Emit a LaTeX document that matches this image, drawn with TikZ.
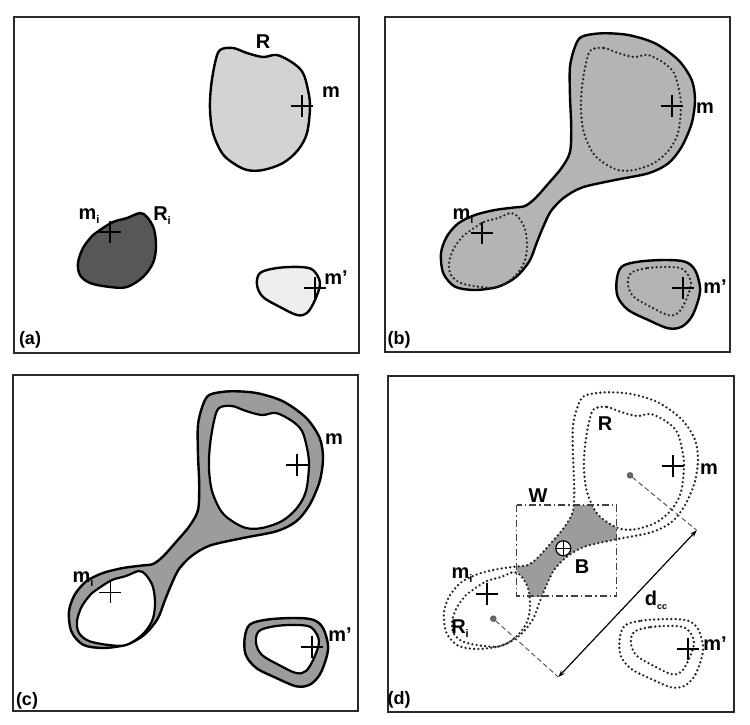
\documentclass[tikz,border=0pt]{standalone}
\usepackage{fontspec}
\setmainfont{Liberation Sans}
\usetikzlibrary{arrows.meta}
\definecolor{gA}{HTML}{D3D3D3}
\definecolor{gDark}{HTML}{575757}
\definecolor{gLight}{HTML}{EDEDED}
\definecolor{gB}{HTML}{B4B4B4}
\definecolor{gC}{HTML}{9C9C9C}
\definecolor{frameC}{HTML}{2A2A2A}
\tikzset{
 Rpath/.style={insert path={plot[smooth cycle,tension=0.55] coordinates {(220,50) (233,48) (247,53) (263,57) (277,55) (293,63) (303,73) (308,90) (310,107) (307,133) (298,150) (283,163) (263,170) (247,170) (233,163) (222,153) (213,133) (210,110) (211,87) (215,63)}}},
 Ripath/.style={insert path={plot[smooth cycle,tension=0.55] coordinates {(100,230) (113,222) (127,218) (140,213) (147,217) (154,229) (156,247) (153,263) (143,277) (127,287) (110,287) (90,283) (80,275) (78,263) (83,248) (93,235)}}},
 Mppath/.style={insert path={plot[smooth cycle,tension=0.55] coordinates {(260,273) (277,268) (300,267) (313,270) (320,283) (315,300) (307,313) (297,315) (280,307) (263,297) (257,285)}}},
 Opath/.style={insert path={plot[smooth cycle,tension=0.5] coordinates {(210.7,36.7) (230.7,33.3) (257.3,35) (284,43.3) (307.3,60) (320.7,80) (324,100) (320.7,123.3) (310.7,146.7) (297.3,163.3) (277.3,173.3) (244,180) (211,187.5) (192.5,198) (180,211) (173,225) (166,242) (158.5,261) (145,277) (127.3,286.7) (104,290) (84,286.7) (72.3,273.3) (70,253.3) (75.7,236.7) (87.3,223.3) (104,215) (124,210) (143,207.5) (154,206) (164,198.5) (177,184) (190.5,168) (199,152) (200.2,126.7) (199,96.7) (199,66.7) (204,46.7)}}},
 Mpopath/.style={insert path={plot[smooth cycle,tension=0.55] coordinates {(250.7,266.7) (267.3,261.7) (294,260) (314,261.7) (324,270) (329,286.7) (327.3,300) (320.7,316.7) (310.7,326.7) (297.3,328.3) (277.3,320) (257.3,310) (246.7,296.7) (245.7,280)}}},
 outline/.style={draw=black,line width=2.4pt},
 dotline/.style={draw=black!85,line width=2.6pt,line cap=round,dash pattern=on 0pt off 4.3pt},
 frameline/.style={draw=frameC,line width=2.2pt},
 lab/.style={font=\fontsize{20}{20}\selectfont\bfseries,inner sep=0pt},
 plab/.style={font=\fontsize{18}{18}\selectfont\bfseries,inner sep=0pt},
 crossmark/.pic={\draw (-11,0) -- (11,0) (0,-11) -- (0,11);},
}
\newcommand{\subi}{\raisebox{-4pt}{\fontsize{11}{11}\selectfont i}}
\begin{document}
\begin{tikzpicture}[x=1pt,y=-1pt]
\useasboundingbox (0,0) rectangle (750,724);
\fill[white] (0,0) rectangle (750,724);
% ---------------- panel a
\begin{scope}
 \draw[frameline] (14,17) rectangle (359,353);
 \path[outline,fill=gA,Rpath];
 \path[outline,fill=gDark,Ripath];
 \path[outline,fill=gLight,Mppath];
 \pic[line width=1.8pt] at (302,106) {crossmark};
 \pic[line width=1.6pt] at (110,232) {crossmark};
 \pic[line width=1.6pt] at (315,288) {crossmark};
 \node[lab] (aR) at (263,42) {R};
 \node[lab] (am) at (331,92) {m};
 \node[lab] (ami) at (89,216) {m\subi};
 \node[lab] (aRi) at (162,216) {R\subi};
 \node[lab] (amp) at (336,278) {m'};
 \node[plab] (alab) at (30,340) {(a)};
\end{scope}
% ---------------- panel b
\begin{scope}[shift={(371,0)}]
 \draw[frameline] (14,17) rectangle (359,352);
 \path[outline,fill=gB,Opath];
 \path[outline,fill=gB,Mpopath];
 \path[dotline,Rpath];
 \path[dotline,Ripath];
 \path[dotline,Mppath];
 \pic[line width=2pt] at (301,106) {crossmark};
 \pic[line width=2pt] at (111,233) {crossmark};
 \pic[line width=1.6pt] at (312,288) {crossmark};
 \node[lab] (bm) at (334,108) {m};
 \node[lab] (bmi) at (92,216) {m\subi};
 \node[lab] (bmp) at (344,287) {m'};
 \node[plab] (blab) at (28,340) {(b)};
\end{scope}
% ---------------- panel c
\begin{scope}[shift={(-1,358)}]
 \draw[frameline] (14,17) rectangle (359,353);
 \path[outline,fill=gC,Opath];
 \path[outline,fill=gC,Mpopath];
 \path[outline,line width=2.2pt,fill=white,Rpath];
 \path[outline,line width=2.2pt,fill=white,Ripath];
 \path[outline,line width=2.2pt,fill=white,Mppath];
 \pic[line width=1.8pt] at (298,107) {crossmark};
 \pic[line width=1pt] at (111,234) {crossmark};
 \pic[line width=1.6pt] at (313,289) {crossmark};
 \node[lab] (cm) at (335,81) {m};
 \node[lab] (cmi) at (84,221) {m\subi};
 \node[lab] (cmp) at (341,277) {m'};
 \node[plab] (clab) at (28,343) {(c)};
\end{scope}
% ---------------- panel d
\begin{scope}[shift={(374,359)}]
 \draw[frameline] (14,17) rectangle (360,353);
 \begin{scope}
  \clip (142.7,146) rectangle (242.7,237);
  \path[fill=gC,Opath];
  \path[fill=white,Rpath];
  \path[fill=white,Ripath];
 \end{scope}
 \path[dotline,Opath];
 \path[dotline,Rpath];
 \path[dotline,Ripath];
 \path[dotline,Mppath];
 \path[dotline,Mpopath];
 \draw[black!75,line width=1.4pt,dash pattern=on 7pt off 3pt on 1.5pt off 3pt] (142.7,146) rectangle (242.7,237);
 \pic[line width=1.8pt] at (299,107) {crossmark};
 \pic[line width=1.8pt] at (113,235) {crossmark};
 \pic[line width=1.8pt] at (314,290) {crossmark};
 \node[circle,fill=white,draw=black,line width=1.2pt,minimum size=15pt,inner sep=0pt] (dB) at (189.3,189.3) {};
 \draw[line width=1.1pt] (dB.west) -- (dB.east) (dB.north) -- (dB.south);
 \node[circle,fill=black!60,draw=black!70,minimum size=6pt,inner sep=0pt] (dot1) at (256,116.3) {};
 \node[circle,fill=black!60,draw=black!70,minimum size=6pt,inner sep=0pt] (dot2) at (119.3,259.7) {};
 \coordinate (e1) at (322.7,171.3);
 \coordinate (e2) at (184.3,318);
 \draw[black!70,line width=0.9pt,dash pattern=on 5pt off 3pt] (dot1) -- (e1);
 \draw[black!70,line width=0.9pt,dash pattern=on 5pt off 3pt] (dot2) -- (e2);
 \draw[line width=1.2pt,{Stealth[length=7pt,width=5pt]}-{Stealth[length=7pt,width=5pt]}] (e2) -- (e1);
 \node[lab] (dR) at (231,65) {R};
 \node[lab] (dm) at (335,110) {m};
 \node[lab] (dW) at (164,137) {W};
 \node[lab] (dmi) at (88,216) {m\subi};
 \node[lab] (dRi) at (86,270) {R\subi};
 \node[lab] (dmp) at (341,285) {m'};
 \node[lab] (dBl) at (208,208) {B};
 \node[lab] (ddcc) at (282,241) {d\raisebox{-4pt}{\fontsize{9}{9}\selectfont cc}};
 \node[plab] (dlab) at (25,341) {(d)};
\end{scope}
\end{tikzpicture}
\end{document}
